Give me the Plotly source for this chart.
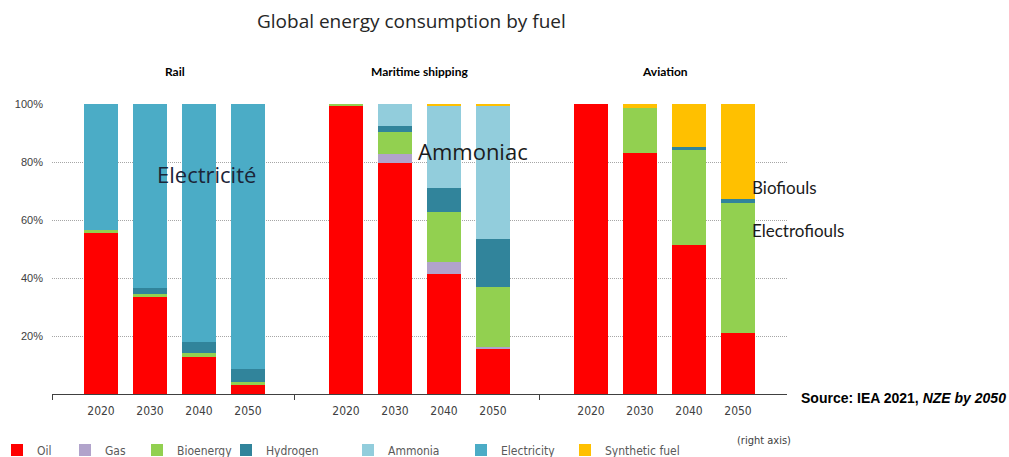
import plotly.graph_objects as go

# Sector groups and the milestone years shown for each
sectors = ["Rail", "Maritime shipping", "Aviation"]
years = ["2020", "2030", "2040", "2050"]

# Share of final energy consumption (%), one list per fuel,
# ordered Rail 2020..2050, Maritime 2020..2050, Aviation 2020..2050
oil = [55.5, 33.3, 12.9, 3.2, 99.6, 79.8, 41.5, 15.6, 100.0, 83.1, 51.3, 21.1]
gas = [0.0, 0.0, 0.0, 0.0, 0.0, 2.9, 4.0, 0.5, 0.0, 0.0, 0.0, 0.0]
bioenergy = [1.2, 1.1, 1.1, 0.9, 0.4, 7.5, 17.2, 20.9, 0.0, 15.4, 32.9, 44.6]
hydrogen = [0.0, 2.2, 3.8, 4.4, 0.0, 2.1, 8.3, 16.3, 0.0, 0.0, 0.9, 1.6]
ammonia = [0.0, 0.0, 0.0, 0.0, 0.0, 7.7, 28.6, 46.1, 0.0, 0.0, 0.0, 0.0]
electricity = [43.3, 63.4, 82.2, 91.5, 0.0, 0.0, 0.0, 0.0, 0.0, 0.0, 0.0, 0.0]
synthetic_fuel = [0.0, 0.0, 0.0, 0.0, 0.0, 0.0, 0.4, 0.6, 0.0, 1.5, 14.9, 32.6]

y_ticks = [20, 40, 60, 80, 100]

fuels = [
    ("Oil", oil, "#FF0000"),
    ("Gas", gas, "#B1A3CB"),
    ("Bioenergy", bioenergy, "#92D050"),
    ("Hydrogen", hydrogen, "#31849B"),
    ("Ammonia", ammonia, "#92CDDC"),
    ("Electricity", electricity, "#4BACC6"),
    ("Synthetic fuel", synthetic_fuel, "#FFC000"),
]

NARROW = "DejaVu Sans Condensed, Liberation Sans Narrow, Arial Narrow, sans-serif"

# Each sector is a block of four bars, blocks separated by one empty slot
GAP = len(years) + 1
xpos = [g * GAP + i for g in range(len(sectors)) for i in range(len(years))]
xlabels = [y for _ in sectors for y in years]
group_centers = [g * GAP + (len(years) - 1) / 2 for g in range(len(sectors))]
group_edges = [-1] + [g * GAP + len(years) - 0.05 for g in range(len(sectors) - 1)]

W, H = 1009, 457
L, R, T, B = 52, 222, 104, 63
plot_w = W - L - R
plot_h = H - T - B

def px_to_paper_x(px):
    return (px - L) / plot_w

def px_to_paper_y(py):
    return (H - B - py) / plot_h

# Legend entries laid out individually along the bottom
legend_left_px = [-3, 65, 137, 226, 348, 461, 565]

fig = go.Figure()
layout_legends = {}
for k, (name, vals, color) in enumerate(fuels):
    key = "legend" if k == 0 else f"legend{k + 1}"
    fig.add_trace(go.Bar(
        x=xpos, y=vals, name=name, marker_color=color,
        marker_line_width=0, width=0.7, legend=key,
        hovertemplate=name + ": %{y:.1f}%<extra></extra>",
    ))
    layout_legends[key] = dict(
        x=px_to_paper_x(legend_left_px[k]), y=px_to_paper_y(450),
        xanchor="left", yanchor="middle", orientation="h",
        bgcolor="rgba(0,0,0,0)", borderwidth=0,
        font=dict(family=NARROW, size=12, color="#595959"),
        itemwidth=30, tracegroupgap=0,
    )

# Invisible helper trace carrying separator tick marks on a second x-axis
fig.add_trace(go.Scatter(x=[group_edges[0]], y=[0], xaxis="x2", mode="markers",
                         marker=dict(opacity=0), showlegend=False, hoverinfo="skip"))

fig.update_layout(
    width=W, height=H,
    margin=dict(l=L, r=R, t=T, b=B, autoexpand=False),
    paper_bgcolor="white", plot_bgcolor="white",
    barmode="stack", bargap=0,
    xaxis=dict(
        range=[-1, 14], tickmode="array", tickvals=xpos, ticktext=xlabels,
        showgrid=False, zeroline=False, showline=True, linecolor="#404040", linewidth=1,
        ticks="", tickfont=dict(family=NARROW, size=12, color="#404040"),
        ticklabelstandoff=6,
    ),
    xaxis2=dict(
        range=[-1, 14], overlaying="x", side="bottom", tickmode="array",
        tickvals=group_edges, ticktext=["" for _ in group_edges],
        ticks="outside", ticklen=5, tickcolor="#404040", tickwidth=1,
        showgrid=False, zeroline=False, showline=False, anchor="y",
    ),
    yaxis=dict(
        range=[0, 100], tickmode="array", tickvals=y_ticks,
        ticktext=[f"{v}%" for v in y_ticks],
        showgrid=True, gridcolor="#A6A6A6", griddash="1px,1px", gridwidth=1,
        zeroline=False, showline=False, ticks="",
        tickfont=dict(family="Liberation Sans, Arial", size=11, color="#404040"),
        ticklabelstandoff=8,
    ),
    **layout_legends,
)

annotations = [
    dict(text="Global energy consumption by fuel", xref="paper", yref="paper",
         x=px_to_paper_x(411), y=px_to_paper_y(21), xanchor="center", yanchor="middle",
         showarrow=False, font=dict(family="Open Sans", size=19, color="#262626")),
    dict(text="<b>Source: IEA 2021, <i>NZE by 2050</i></b>", xref="paper", yref="paper",
         x=px_to_paper_x(799), y=px_to_paper_y(398), xanchor="left", yanchor="middle",
         showarrow=False, font=dict(family="Liberation Sans, Arial", size=14, color="#000000")),
    dict(text="(right axis)", xref="paper", yref="paper",
         x=px_to_paper_x(735), y=px_to_paper_y(440), xanchor="left", yanchor="middle",
         showarrow=False, font=dict(family=NARROW, size=11, color="#404040")),
    dict(text="Electricité", xref="paper", yref="paper",
         x=px_to_paper_x(155), y=px_to_paper_y(174), xanchor="left", yanchor="middle",
         showarrow=False, font=dict(family="Open Sans", size=22, color="#1B2538")),
    dict(text="Ammoniac", xref="paper", yref="paper",
         x=px_to_paper_x(416), y=px_to_paper_y(151), xanchor="left", yanchor="middle",
         showarrow=False, font=dict(family="Open Sans", size=22, color="#1B1B1B")),
    dict(text="Biofiouls", xref="paper", yref="paper",
         x=px_to_paper_x(750), y=px_to_paper_y(187), xanchor="left", yanchor="middle",
         showarrow=False, font=dict(family="Lato", size=17, color="#1B1B1B")),
    dict(text="Electrofiouls", xref="paper", yref="paper",
         x=px_to_paper_x(750), y=px_to_paper_y(230), xanchor="left", yanchor="middle",
         showarrow=False, font=dict(family="Lato", size=17, color="#1B1B1B")),
]
for name, cx in zip(sectors, group_centers):
    annotations.append(dict(
        text=f"<b>{name}</b>", xref="x", yref="paper", x=cx, y=px_to_paper_y(71),
        xanchor="center", yanchor="middle", showarrow=False,
        font=dict(family="Lato", size=12, color="#000000"),
    ))
fig.update_layout(annotations=annotations)

fig.write_html("out.html")
